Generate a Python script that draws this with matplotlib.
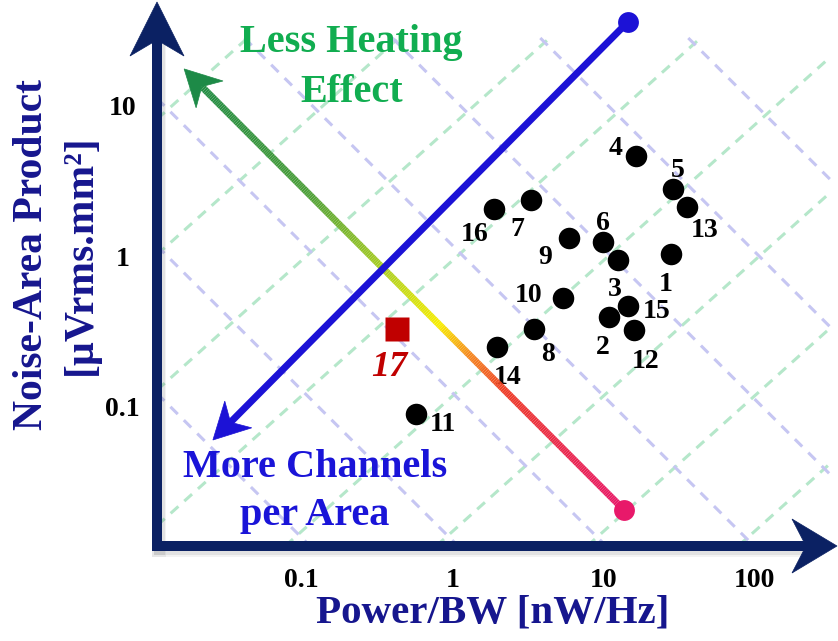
import numpy as np
import matplotlib
matplotlib.use("Agg")
import matplotlib.pyplot as plt
from matplotlib.collections import LineCollection
from matplotlib.patches import Polygon
from matplotlib.lines import Line2D
from matplotlib.transforms import IdentityTransform
from matplotlib.colors import LinearSegmentedColormap

plt.rcParams['font.family'] = ['Liberation Serif', 'DejaVu Serif']
plt.rcParams['font.weight'] = 'bold'

# ---------------- data ----------------
design_ids = ['1', '2', '3', '4', '5', '6', '7', '8', '9', '10',
              '11', '12', '13', '14', '15', '16']
power_bw = [28.0, 10.9, 12.5, 16.4, 28.9, 9.93, 3.31, 3.47, 5.91, 5.39,
            0.573, 15.9, 35.7, 1.97, 14.5, 1.88]
noise_area = [1.03, 0.393, 0.941, 4.62, 2.79, 1.24, 2.36, 0.327, 1.32, 0.526,
              0.0892, 0.322, 2.12, 0.249, 0.465, 2.05]
proposed_id = ['17']
proposed_power = [0.429]
proposed_noise = [0.327]

xtick_values = [0.1, 1, 10, 100]
xtick_labels = ['0.1', '1', '10', '100']
ytick_values = [0.1, 1, 10]
ytick_labels = ['0.1', '1', '10']

# trend arrows: [dot end, arrow tip]
area_arrow_x = [14.5, 0.0259]
area_arrow_y = [35.9, 0.0599]
heat_arrow_x = [13.7, 0.0167]
heat_arrow_y = [0.0205, 17.5]

# background guide lines: log10(y) = slope*log10(x) + offset
green_guide_slope = 0.9
green_guide_offsets = [-4.53, -3.63, -2.73, -1.83, -0.93, -0.03, 0.87, 1.77, 2.67, 3.57]
lav_guide_slope = -1.0
lav_guide_offsets = [-3.85, -2.87, -1.89, -0.91, 0.07, 1.05, 2.03, 3.01, 3.99, 4.97]

# label offsets in image pixels (right, down)
label_offsets = {'1': (-5, 27), '2': (-6, 27), '3': (-3, 27), '4': (-20, -10),
                 '5': (5, -21), '6': (0, -21), '7': (-14, 27), '8': (14, 22),
                 '9': (-24, 17), '10': (-34, -5), '11': (27, 8), '12': (12, 28),
                 '13': (18, 21), '14': (11, 28), '15': (29, 2), '16': (-19, 22),
                 '17': (-8, 34)}

# ---------------- layout ----------------
W, H = 838, 641
fig = plt.figure(figsize=(W / 100, H / 100), dpi=100)
fig.patch.set_facecolor('white')

AX_L, AX_B = 157, 546            # axis origin in image pixels
X1_PX, XDEC = 452.5, 151.0       # pixel of x=1, pixels per decade
Y1_PX, YDEC = 256.0, 150.5

ax = fig.add_axes([AX_L / W, (H - AX_B) / H, (W - AX_L) / W, AX_B / H])
ax.set_xscale('log')
ax.set_yscale('log')
lxmin = (AX_L - X1_PX) / XDEC
lxmax = (W - X1_PX) / XDEC
lymin = (Y1_PX - AX_B) / YDEC
lymax = Y1_PX / YDEC
ax.set_xlim(10 ** lxmin, 10 ** lxmax)
ax.set_ylim(10 ** lymin, 10 ** lymax)
for s in ax.spines.values():
    s.set_visible(False)
ax.set_xticks(xtick_values, xtick_labels)
ax.set_yticks(ytick_values, ytick_labels)
ax.minorticks_off()
ax.tick_params(axis='both', length=0, labelsize=20)
ax.tick_params(axis='x', pad=15.5)
ax.tick_params(axis='y', pad=25)
for lab in ax.get_yticklabels():
    lab.set_ha('center')
    lab.set_fontweight('bold')
for lab in ax.get_xticklabels():
    lab.set_fontweight('bold')

# ---------------- guide grid ----------------
lgrid_top = (Y1_PX - 38) / YDEC
lgrid_right = (830 - X1_PX) / XDEC
for c in green_guide_offsets:
    s = green_guide_slope
    lo = max(lxmin, (lymin - c) / s)
    hi = min(lgrid_right, (lgrid_top - c) / s)
    if lo < hi:
        xs = np.array([lo, hi])
        ax.plot(10 ** xs, 10 ** (s * xs + c), color='#b5e7ca', lw=2.2,
                linestyle=(0, (3.4, 2.6)), zorder=1)
for c in lav_guide_offsets:
    s = lav_guide_slope
    lo = max(lxmin, (lgrid_top - c) / s)
    hi = min(lgrid_right, (lymin - c) / s)
    if lo < hi:
        xs = np.array([lo, hi])
        ax.plot(10 ** xs, 10 ** (s * xs + c), color='#c6c6f2', lw=2.2,
                linestyle=(0, (3.4, 2.8)), zorder=1)


def to_disp(x, y):
    return ax.transData.transform((x, y))


def img(xp, yp):
    return np.array([xp, H - yp], dtype=float)


def stealth(tip, tail, L, Wd, notch, color, z=6):
    tip = np.asarray(tip, float)
    tail = np.asarray(tail, float)
    u = (tip - tail) / np.hypot(*(tip - tail))
    n = np.array([-u[1], u[0]])
    pts = [tip, tip - L * u + Wd * n, tip - notch * u, tip - L * u - Wd * n]
    p = Polygon(pts, closed=True, transform=IdentityTransform(),
                facecolor=color, edgecolor=color, lw=0.5, zorder=z)
    fig.add_artist(p)
    return tip - notch * u


# ---------------- trend arrows ----------------
BLUE = '#1c12d6'
start = to_disp(area_arrow_x[0], area_arrow_y[0])
tip = to_disp(area_arrow_x[1], area_arrow_y[1])
notch_pt = stealth(tip, start, 36, 19, 25, BLUE, z=3)
fig.add_artist(Line2D([start[0], notch_pt[0]], [start[1], notch_pt[1]],
                      transform=IdentityTransform(), color=BLUE, lw=5, zorder=2.9))
ax.plot([area_arrow_x[0]], [area_arrow_y[0]], 'o', color=BLUE, ms=15,
        mec='none', zorder=3, clip_on=False)

cmap = LinearSegmentedColormap.from_list('heat', [
    (0.00, '#e8196a'), (0.15, '#ea2a4a'), (0.27, '#ee3d28'), (0.35, '#f5871f'),
    (0.42, '#f8ee00'), (0.53, '#b5d31f'), (0.72, '#4d9f3a'), (1.00, '#1d8a47')])
start = to_disp(heat_arrow_x[0], heat_arrow_y[0])
tip = to_disp(heat_arrow_x[1], heat_arrow_y[1])
notch_pt = stealth(tip, start, 36, 19, 25, '#1d8a47', z=3)
total = np.hypot(*(tip - start))
seg_len = np.hypot(*(notch_pt - start))
t = np.linspace(0, seg_len / total, 300)
pts = start[None, :] + t[:, None] * (tip - start)[None, :]
segs = np.stack([pts[:-1], pts[1:]], axis=1)
lc = LineCollection(segs, colors=cmap(0.5 * (t[:-1] + t[1:])), linewidths=5,
                    transform=IdentityTransform(), zorder=2.8, capstyle='butt')
fig.add_artist(lc)
ax.plot([heat_arrow_x[0]], [heat_arrow_y[0]], 'o', color='#e8196a', ms=15,
        mec='none', zorder=3, clip_on=False)

# ---------------- data points ----------------
ax.plot(power_bw, noise_area, 'o', color='black', ms=15.5, mec='none', zorder=4)
for lab, x, y in zip(design_ids, power_bw, noise_area):
    dx, dy = label_offsets[lab]
    ax.annotate(lab, (x, y), xytext=(dx * 0.72, -dy * 0.72), textcoords='offset points',
                ha='center', va='center_baseline', fontsize=20, fontweight='bold',
                color='black', zorder=5)
ax.plot(proposed_power, proposed_noise, 's', color='#c00000', ms=17, mec='none', zorder=4)
for lab, x, y in zip(proposed_id, proposed_power, proposed_noise):
    dx, dy = label_offsets[lab]
    ax.annotate(lab, (x, y), xytext=(dx * 0.72, -dy * 0.72), textcoords='offset points',
                ha='center', va='center_baseline', fontsize=26, fontweight='bold',
                fontstyle='italic', color='#c00000', zorder=5)

# ---------------- axis arrows ----------------
NAVY = '#0b2163'
for off, alpha, lw in [((2, -4), 0.07, 14), ((2, -3), 0.10, 11)]:
    fig.add_artist(Line2D([AX_L + off[0], AX_L + off[0]],
                          [H - AX_B + off[1], H - 45 + off[1]],
                          transform=IdentityTransform(), color='#555555',
                          alpha=alpha, lw=lw * 0.72, zorder=5.5))
    fig.add_artist(Line2D([AX_L + off[0], 806 + off[0]],
                          [H - AX_B + off[1], H - AX_B + off[1]],
                          transform=IdentityTransform(), color='#555555',
                          alpha=alpha, lw=lw * 0.72, zorder=5.5))
fig.add_artist(Line2D([AX_L, AX_L], [H - AX_B - 5, H - 40],
                      transform=IdentityTransform(), color=NAVY, lw=10 * 0.72,
                      zorder=6, solid_capstyle='butt'))
fig.add_artist(Line2D([AX_L - 5, 808], [H - AX_B, H - AX_B],
                      transform=IdentityTransform(), color=NAVY, lw=10 * 0.72,
                      zorder=6, solid_capstyle='butt'))
stealth(img(AX_L, 2), img(AX_L, 300), 54, 27, 38, NAVY, z=6)
stealth(img(837, AX_B), img(500, AX_B), 45, 27, 31, NAVY, z=6)

# ---------------- annotations ----------------
GREEN = '#11ad50'
fig.text(351 / W, 1 - 52 / H, 'Less Heating', ha='center', va='baseline',
         fontsize=29, fontweight='bold', color=GREEN)
fig.text(352 / W, 1 - 102 / H, 'Effect', ha='center', va='baseline',
         fontsize=29, fontweight='bold', color=GREEN)
fig.text(315 / W, 1 - 477 / H, 'More Channels', ha='center', va='baseline',
         fontsize=29, fontweight='bold', color='#1a14d8')
fig.text(315 / W, 1 - 525 / H, 'per Area', ha='center', va='baseline',
         fontsize=29, fontweight='bold', color='#1a14d8')

LABEL = '#16168e'
fig.text(42 / W, 1 - 255 / H, 'Noise-Area Product', rotation=90,
         rotation_mode='anchor', ha='center', va='baseline',
         fontsize=30, fontweight='bold', color=LABEL)
fig.text(91 / W, 1 - 255 / H, '[µVrms.mm²]', rotation=90,
         rotation_mode='anchor', ha='center', va='baseline',
         fontsize=30, fontweight='bold', color=LABEL)
fig.text(493 / W, 1 - 623 / H, 'Power/BW [nW/Hz]', ha='center', va='baseline',
         fontsize=29.5, fontweight='bold', color=LABEL)

fig.savefig('out.png', dpi=100, facecolor='white')
